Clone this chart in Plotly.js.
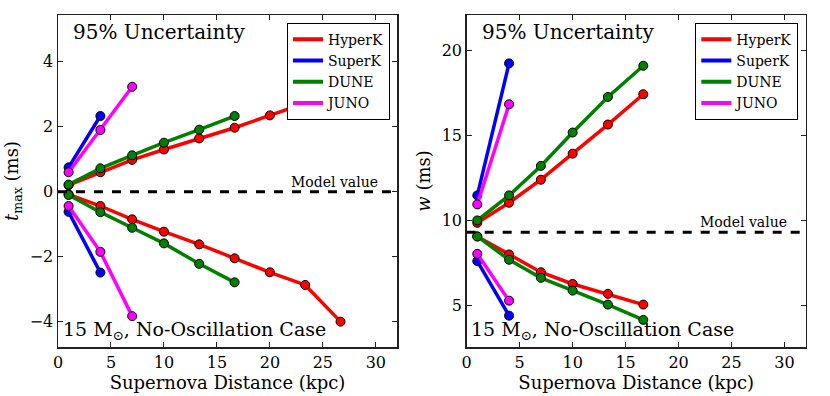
<!DOCTYPE html>
<html>
<head>
<meta charset="utf-8">
<script src="https://cdn.plot.ly/plotly-3.0.1.min.js"></script>
<style>html,body{margin:0;padding:0;background:#fff;}#chart{width:830px;height:396px;}</style>
</head>
<body>
<div id="chart"></div>
<script>
// ---- Data ----
const distances = [1, 4, 7, 10, 13.33, 16.67, 20, 23.33, 26.67]; // kpc

const detectors = ["HyperK", "SuperK", "DUNE", "JUNO"];
const colors = ["#ff0000", "#0000ff", "#008000", "#ff00ff"];

// t_max (ms), 95% upper/lower bounds
const hyperK_tmax_upper = [0.20, 0.60, 0.98, 1.30, 1.64, 1.97, 2.35, 2.72, 3.10];
const hyperK_tmax_lower = [-0.08, -0.44, -0.85, -1.23, -1.62, -2.05, -2.48, -2.87, -4.00];
const superK_tmax_upper = [0.75, 2.33];
const superK_tmax_lower = [-0.62, -2.49];
const dune_tmax_upper = [0.22, 0.72, 1.12, 1.51, 1.91, 2.33];
const dune_tmax_lower = [-0.10, -0.63, -1.11, -1.59, -2.22, -2.79];
const juno_tmax_upper = [0.60, 1.90, 3.23];
const juno_tmax_lower = [-0.44, -1.85, -3.83];

// w (ms), 95% upper/lower bounds
const hyperK_w_upper = [9.86, 11.04, 12.39, 13.92, 15.63, 17.41];
const hyperK_w_lower = [9.06, 8.00, 6.96, 6.27, 5.69, 5.06];
const superK_w_upper = [11.47, 19.22];
const superK_w_lower = [7.61, 4.41];
const dune_w_upper = [10.00, 11.47, 13.20, 15.16, 17.25, 19.08];
const dune_w_lower = [9.06, 7.69, 6.63, 5.88, 5.06, 4.16];
const juno_w_upper = [10.94, 16.82];
const juno_w_lower = [8.04, 5.29];

const modelTmax = 0;
const modelW = 9.3;

const xTickVals = [0, 5, 10, 15, 20, 25, 30];
const yTickValsTmax = [-4, -2, 0, 2, 4];
const yTickValsW = [5, 10, 15, 20];

// ---- Build traces ----
const FONT = "DejaVu Serif";
const tmaxSeries = [
  [hyperK_tmax_upper, hyperK_tmax_lower],
  [superK_tmax_upper, superK_tmax_lower],
  [dune_tmax_upper, dune_tmax_lower],
  [juno_tmax_upper, juno_tmax_lower]
];
const wSeries = [
  [hyperK_w_upper, hyperK_w_lower],
  [superK_w_upper, superK_w_lower],
  [dune_w_upper, dune_w_lower],
  [juno_w_upper, juno_w_lower]
];

const traces = [];
function addPanel(series, xa, ya, legendId) {
  series.forEach((pair, i) => {
    pair.forEach(vals => {
      traces.push({
        x: distances.slice(0, vals.length), y: vals,
        xaxis: xa, yaxis: ya, type: "scatter", mode: "lines+markers",
        line: {color: colors[i], width: 3.5},
        marker: {color: colors[i], size: 9, line: {color: "#000", width: 1}},
        showlegend: false, hoverinfo: "x+y"
      });
    });
  });
  // legend entries (line only, like the reference)
  detectors.forEach((name, i) => {
    traces.push({
      x: [null], y: [null], xaxis: xa, yaxis: ya, type: "scatter", mode: "lines",
      name: name, line: {color: colors[i], width: 4}, legend: legendId, showlegend: true
    });
  });
}
addPanel(tmaxSeries, "x", "y", "legend");
addPanel(wSeries, "x2", "y2", "legend2");

const W = 830, H = 396;
const px = v => v / W;
const py = v => 1 - v / H;

const axisCommon = {
  showgrid: false, zeroline: false, showline: true, linecolor: "#222", linewidth: 1.5,
  mirror: "allticks", ticks: "inside", ticklen: 5, tickwidth: 1, tickcolor: "#222",
  tickfont: {family: FONT, size: 16, color: "#000"}
};

const yDomain = [py(347), py(15)];

const layout = {
  width: W, height: H,
  margin: {l: 0, r: 0, t: 0, b: 0},
  paper_bgcolor: "#fff", plot_bgcolor: "#fff",
  font: {family: FONT, color: "#000"},
  xaxis: Object.assign({}, axisCommon, {
    domain: [px(58), px(397)], range: [0, 32], tickvals: xTickVals, anchor: "y",
    title: {text: "Supernova Distance (kpc)", font: {family: FONT, size: 18}, standoff: 5}
  }),
  yaxis: Object.assign({}, axisCommon, {
    domain: yDomain, range: [-4.78, 5.44], tickvals: yTickValsTmax, anchor: "x",
    title: {text: "<i>t</i><sub>max</sub> (ms)", font: {family: FONT, size: 18}, standoff: 6}
  }),
  xaxis2: Object.assign({}, axisCommon, {
    domain: [px(466.7), px(805.7)], range: [0, 32], tickvals: xTickVals, anchor: "y2",
    title: {text: "Supernova Distance (kpc)", font: {family: FONT, size: 18}, standoff: 5}
  }),
  yaxis2: Object.assign({}, axisCommon, {
    domain: yDomain, range: [2.57, 22.06], tickvals: yTickValsW, anchor: "x2",
    title: {text: "<i>w</i> (ms)", font: {family: FONT, size: 18}, standoff: 6}
  }),
  legend: {
    x: px(390), y: py(22.7), xanchor: "right", yanchor: "top",
    bgcolor: "#fff", bordercolor: "#000", borderwidth: 1,
    font: {family: FONT, size: 14}, tracegroupgap: 0
  },
  legend2: {
    x: px(798.3), y: py(22.7), xanchor: "right", yanchor: "top",
    bgcolor: "#fff", bordercolor: "#000", borderwidth: 1,
    font: {family: FONT, size: 14}, tracegroupgap: 0
  },
  shapes: [
    {type: "line", xref: "x domain", yref: "y", x0: 0, x1: 1, y0: modelTmax, y1: modelTmax,
     line: {color: "#000", width: 3, dash: "dash"}, layer: "above"},
    {type: "line", xref: "x2 domain", yref: "y2", x0: 0, x1: 1, y0: modelW, y1: modelW,
     line: {color: "#000", width: 3, dash: "dash"}, layer: "above"}
  ],
  annotations: [
    {text: "95% Uncertainty", xref: "paper", yref: "paper", x: px(71), y: py(32),
     xanchor: "left", yanchor: "middle", showarrow: false, font: {family: FONT, size: 20}},
    {text: "95% Uncertainty", xref: "paper", yref: "paper", x: px(480), y: py(32),
     xanchor: "left", yanchor: "middle", showarrow: false, font: {family: FONT, size: 20}},
    {text: "Model value", xref: "paper", yref: "paper", x: px(380), y: py(182),
     xanchor: "right", yanchor: "middle", showarrow: false, font: {family: FONT, size: 14}},
    {text: "Model value", xref: "paper", yref: "paper", x: px(789), y: py(222),
     xanchor: "right", yanchor: "middle", showarrow: false, font: {family: FONT, size: 14}},
    {text: "15 M<sub>⊙</sub>, No-Oscillation Case", xref: "paper", yref: "paper", x: px(61), y: py(330),
     xanchor: "left", yanchor: "middle", showarrow: false, font: {family: FONT, size: 19}},
    {text: "15 M<sub>⊙</sub>, No-Oscillation Case", xref: "paper", yref: "paper", x: px(469), y: py(330),
     xanchor: "left", yanchor: "middle", showarrow: false, font: {family: FONT, size: 19}}
  ]
};

Plotly.newPlot("chart", traces, layout, {staticPlot: true, displayModeBar: false});
</script>
</body>
</html>
